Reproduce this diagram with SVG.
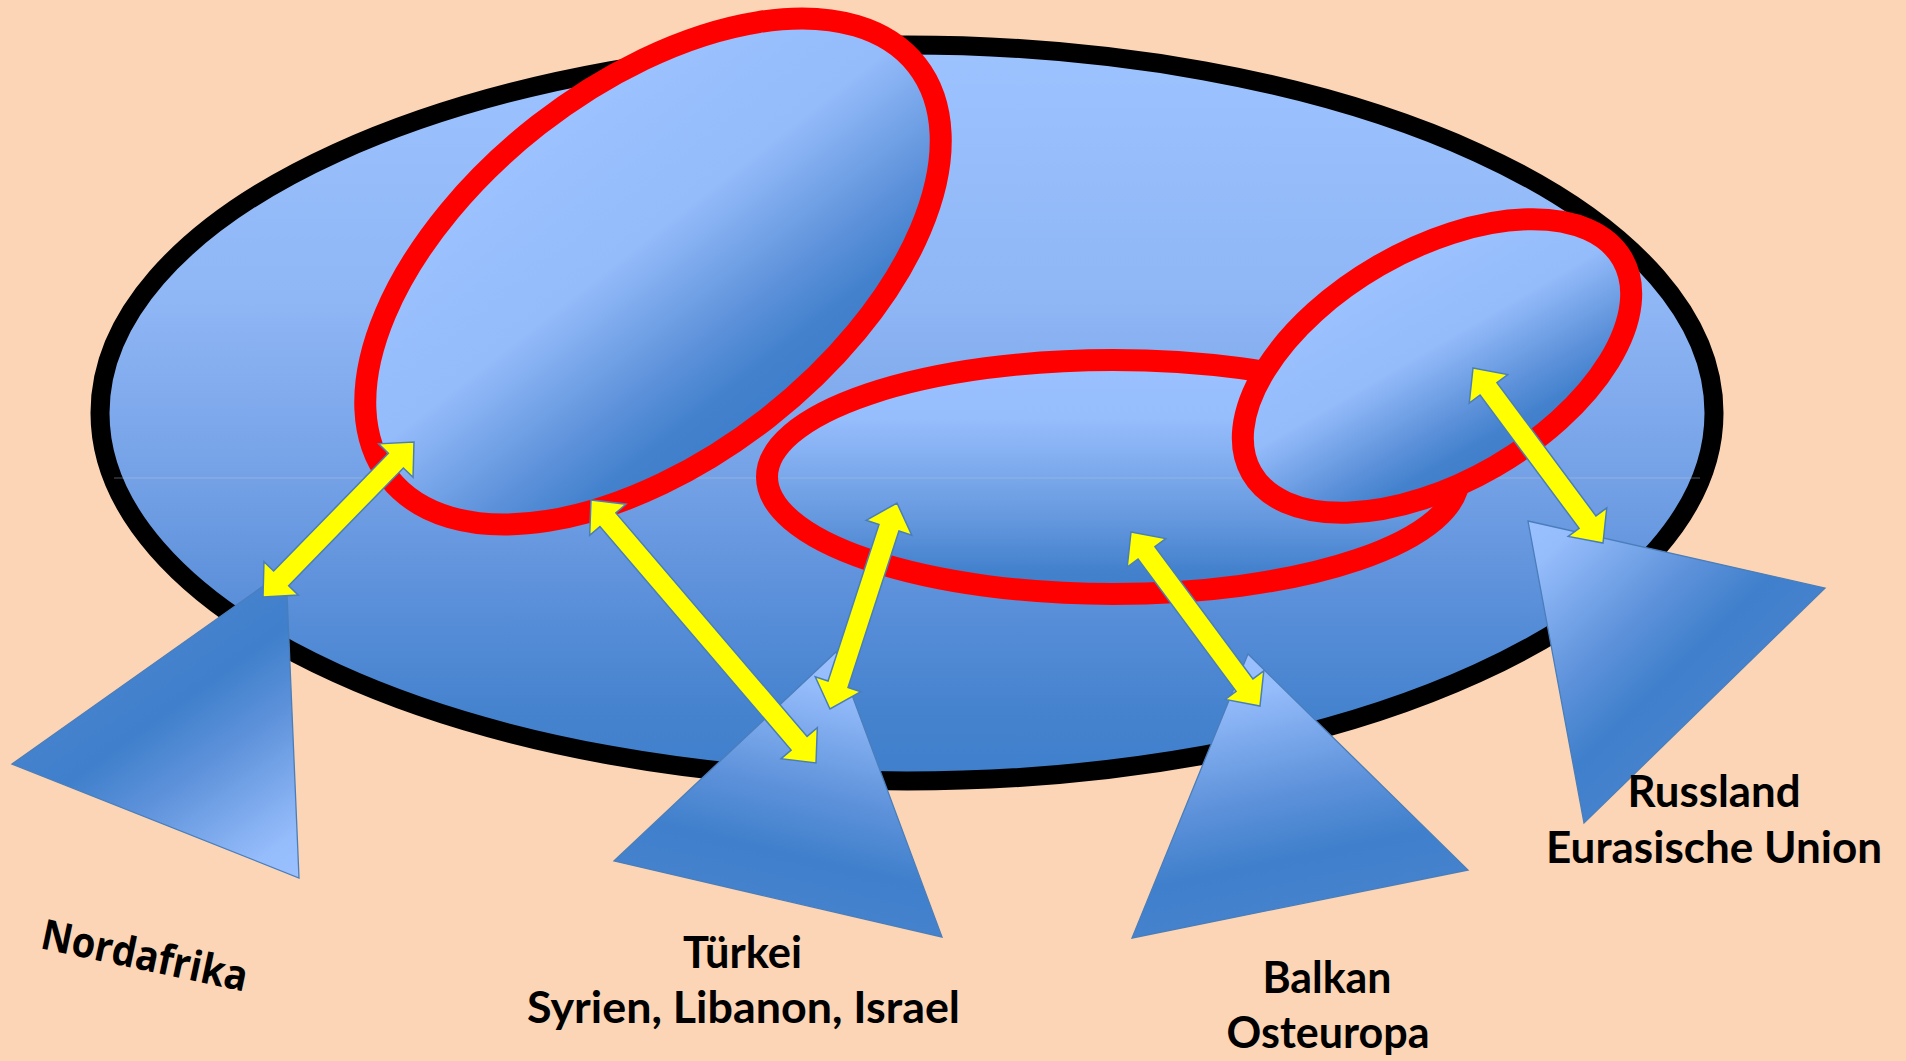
<svg xmlns="http://www.w3.org/2000/svg" width="1906" height="1061" viewBox="0 0 1906 1061">
  <style>
    .ring { stroke: #FF0000; stroke-width: 22; }
    .tri { stroke: #4A7EBB; stroke-width: 1.3; stroke-linejoin: miter; }
    .arrow { fill: #FFFF00; stroke: #4A7EBB; stroke-width: 1.5; stroke-linejoin: miter; }
    .lbl { font-family: Lato, "Open Sans", "DejaVu Sans", sans-serif; font-weight: 700; font-size: 43px; fill: #000000; text-anchor: middle; }
    .seam { stroke: #B4C4D4; stroke-width: 1; stroke-opacity: 0.45; }
  </style>
  <defs>
    <linearGradient id="gBig" x1="0" y1="0" x2="0" y2="1">
      <stop offset="0" stop-color="#9DC3FF"/>
      <stop offset="0.35" stop-color="#8FB6F5"/>
      <stop offset="0.59" stop-color="#74A1E6"/>
      <stop offset="0.76" stop-color="#5A8FD9"/>
      <stop offset="0.9" stop-color="#4683CF"/>
      <stop offset="1" stop-color="#3F7FCB"/>
    </linearGradient>
    <linearGradient id="gTilt" x1="0" y1="0" x2="0" y2="1">
      <stop offset="0" stop-color="#9CC2FF"/>
      <stop offset="0.42" stop-color="#94BBFA"/>
      <stop offset="0.72" stop-color="#5F93DB"/>
      <stop offset="0.88" stop-color="#4381CD"/>
      <stop offset="1" stop-color="#3F7ECA"/>
    </linearGradient>
    <linearGradient id="gMid" x1="0" y1="0" x2="0" y2="1">
      <stop offset="0" stop-color="#9BC1FF"/>
      <stop offset="0.25" stop-color="#96BDFC"/>
      <stop offset="0.68" stop-color="#6598DE"/>
      <stop offset="0.9" stop-color="#4381CD"/>
      <stop offset="1" stop-color="#3F7ECA"/>
    </linearGradient>
    <linearGradient id="gNord" gradientUnits="userSpaceOnUse" x1="299" y1="878" x2="149" y2="667">
      <stop offset="0" stop-color="#9AC0FF"/>
      <stop offset="0.15" stop-color="#95BCFB"/>
      <stop offset="0.55" stop-color="#5F93DB"/>
      <stop offset="0.82" stop-color="#3F7FCB"/>
      <stop offset="1" stop-color="#4582CE"/>
    </linearGradient>
    <linearGradient id="gTurk" gradientUnits="userSpaceOnUse" x1="836" y1="652" x2="778" y2="899">
      <stop offset="0" stop-color="#9AC0FF"/>
      <stop offset="0.15" stop-color="#95BCFB"/>
      <stop offset="0.55" stop-color="#5F93DB"/>
      <stop offset="0.82" stop-color="#3F7FCB"/>
      <stop offset="1" stop-color="#4582CE"/>
    </linearGradient>
    <linearGradient id="gBalk" gradientUnits="userSpaceOnUse" x1="1248" y1="654" x2="1300" y2="904">
      <stop offset="0" stop-color="#9AC0FF"/>
      <stop offset="0.15" stop-color="#95BCFB"/>
      <stop offset="0.55" stop-color="#5F93DB"/>
      <stop offset="0.82" stop-color="#3F7FCB"/>
      <stop offset="1" stop-color="#4582CE"/>
    </linearGradient>
    <linearGradient id="gRuss" gradientUnits="userSpaceOnUse" x1="1528" y1="521" x2="1706" y2="705">
      <stop offset="0" stop-color="#9AC0FF"/>
      <stop offset="0.15" stop-color="#95BCFB"/>
      <stop offset="0.55" stop-color="#5F93DB"/>
      <stop offset="0.82" stop-color="#3F7FCB"/>
      <stop offset="1" stop-color="#4582CE"/>
    </linearGradient>
  </defs>

  <rect id="background" x="0" y="0" width="1906" height="1061" fill="#FBD5B5"/>

  <g id="node-world">
    <ellipse cx="907" cy="413" rx="807" ry="368" fill="url(#gBig)" stroke="#000000" stroke-width="19"/>
    <line class="seam" x1="114" y1="478" x2="1700" y2="478"/>
  </g>

  <g id="node-region-west">
    <ellipse class="ring" cx="653" cy="271.5" rx="335" ry="186" fill="url(#gTilt)" transform="rotate(-38 653 271.5)"/>
  </g>

  <g id="node-region-center">
    <ellipse class="ring" cx="1113" cy="477" rx="346" ry="117" fill="url(#gMid)"/>
    <line class="seam" x1="780" y1="478" x2="1250" y2="478"/>
  </g>

  <g id="node-region-east">
    <ellipse class="ring" cx="1437" cy="366" rx="214" ry="116" fill="url(#gTilt)" transform="rotate(-30 1437 366)"/>
  </g>

  <g id="node-nordafrika">
    <polygon class="tri" points="286,570 12,764 299,878" fill="url(#gNord)"/>
    <text x="39" y="948" transform="rotate(12 39 948)" font-family="'Open Sans', 'DejaVu Sans', sans-serif" font-weight="700" font-size="42" textLength="210" lengthAdjust="spacingAndGlyphs" fill="#000000">Nordafrika</text>
  </g>

  <g id="node-tuerkei">
    <polygon class="tri" points="836,652 614,861 942,937" fill="url(#gTurk)"/>
    <text class="lbl" x="742.5" y="968" textLength="119" lengthAdjust="spacingAndGlyphs">Türkei</text>
    <text class="lbl" x="743.5" y="1023" textLength="433" lengthAdjust="spacingAndGlyphs">Syrien, Libanon, Israel</text>
  </g>

  <g id="node-balkan">
    <polygon class="tri" points="1248,654 1468,870 1132,938" fill="url(#gBalk)"/>
    <text class="lbl" x="1327" y="993" textLength="129" lengthAdjust="spacingAndGlyphs">Balkan</text>
    <text class="lbl" x="1328" y="1048" textLength="203" lengthAdjust="spacingAndGlyphs">Osteuropa</text>
  </g>

  <g id="node-russland">
    <polygon class="tri" points="1528,521 1825,588 1584,823" fill="url(#gRuss)"/>
    <text class="lbl" x="1714" y="807" textLength="173" lengthAdjust="spacingAndGlyphs">Russland</text>
    <text class="lbl" x="1714" y="863" textLength="336" lengthAdjust="spacingAndGlyphs">Eurasische Union</text>
  </g>

  <g id="connectors">
    <polygon class="arrow" transform="translate(263 597) rotate(-45.75)" points="0,0 26,-24 26,-10.5 190.4,-10.5 190.4,-24 216.4,0 190.4,24 190.4,10.5 26,10.5 26,24"/>
    <polygon class="arrow" transform="translate(591 500) rotate(49.45)" points="0,0 26,-24 26,-10.5 320.1,-10.5 320.1,-24 346.1,0 320.1,24 320.1,10.5 26,10.5 26,24"/>
    <polygon class="arrow" transform="translate(897 503) rotate(108.02)" points="0,0 26,-24 26,-10.5 190.6,-10.5 190.6,-24 216.6,0 190.6,24 190.6,10.5 26,10.5 26,24"/>
    <polygon class="arrow" transform="translate(1131 532) rotate(53.45)" points="0,0 26,-24 26,-10.5 190.6,-10.5 190.6,-24 216.6,0 190.6,24 190.6,10.5 26,10.5 26,24"/>
    <polygon class="arrow" transform="translate(1473 368) rotate(53.39)" points="0,0 26,-24 26,-10.5 192,-10.5 192,-24 218,0 192,24 192,10.5 26,10.5 26,24"/>
  </g>
</svg>
